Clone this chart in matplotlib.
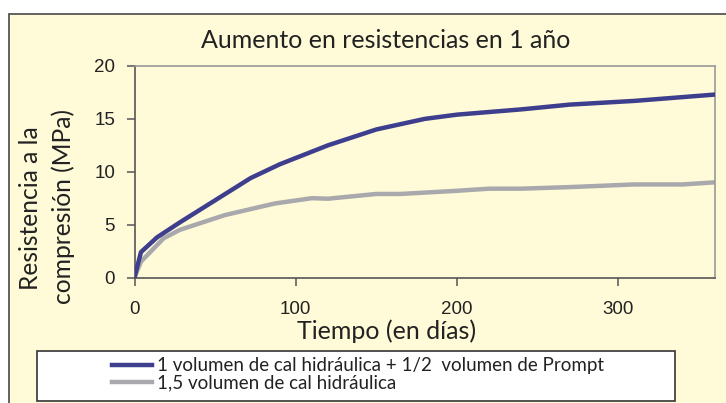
import matplotlib
matplotlib.use("Agg")
import matplotlib.pyplot as plt
from matplotlib.patches import Rectangle
from matplotlib.lines import Line2D

# Data
dias_a = [0, 4, 14, 28, 50, 72, 90, 120, 150, 180, 200, 240, 270, 310, 360]
res_a = [0, 2.4, 3.8, 5.2, 7.3, 9.4, 10.7, 12.5, 14.0, 15.0, 15.4, 15.9, 16.35, 16.7, 17.3]
dias_b = [0, 4, 18, 28, 56, 87, 110, 120, 150, 165, 200, 220, 240, 270, 310, 340, 360]
res_b = [0, 1.5, 3.7, 4.5, 5.9, 7.0, 7.5, 7.45, 7.9, 7.9, 8.2, 8.4, 8.4, 8.55, 8.8, 8.8, 9.0]
labels = ["1 volumen de cal hidráulica + 1/2  volumen de Prompt",
          "1,5 volumen de cal hidráulica"]
xticks = [0, 100, 200, 300]
yticks = [0, 5, 10, 15, 20]

W, H = 726, 403
fig = plt.figure(figsize=(W / 100, H / 100), dpi=100)
fig.patch.set_facecolor("white")
bg = "#FFFAD7"
label_font = ["Lato", "DejaVu Sans"]
tick_font = ["Liberation Sans", "DejaVu Sans"]

def fx(px):
    return px / W

def fy(py):
    return 1 - py / H

# outer frame
frame = Rectangle((fx(8.5), fy(420)), fx(760), (420 - 14) / H,
                  transform=fig.transFigure, facecolor=bg,
                  edgecolor="#555555", linewidth=1.3, zorder=-5)
fig.patches.append(frame)

ax = fig.add_axes([fx(134.5), fy(277.5), fx(715 - 134.5), (277.5 - 66) / H])
ax.set_zorder(2)
ax.set_facecolor(bg)
ax.plot(dias_a, res_a, color="#3E3E8E", lw=3.2, solid_capstyle="round", zorder=3)
ax.plot(dias_b, res_b, color="#A9A9AD", lw=3.2, solid_capstyle="round", zorder=2)
ax.set_xlim(0, 360)
ax.set_ylim(0, 20)
ax.set_xticks(xticks)
ax.set_yticks(yticks)
for s in ["top", "right"]:
    ax.spines[s].set_color("#9A9A9A")
    ax.spines[s].set_linewidth(1.2)
for s in ["left", "bottom"]:
    ax.spines[s].set_color("#555555")
    ax.spines[s].set_linewidth(1.2)
ax.tick_params(axis="both", direction="out", length=6, width=1.1, color="#555555",
               labelsize=13.5, labelcolor="#222222")
ax.tick_params(axis="y", pad=8)
ax.tick_params(axis="x", pad=11)
for t in ax.get_xticklabels() + ax.get_yticklabels():
    t.set_fontfamily(tick_font)

fig.text(fx(386), fy(40), "Aumento en resistencias en 1 año", ha="center", va="center",
         fontsize=18, family=label_font, color="#222222", zorder=3)
fig.text(fx(387), fy(331), "Tiempo (en días)", ha="center", va="center",
         fontsize=18, family=label_font, color="#222222", zorder=3)
fig.text(fx(31), fy(208), "Resistencia a la", ha="center", va="center", rotation=90,
         fontsize=17.7, family=label_font, color="#222222", zorder=3)
fig.text(fx(63), fy(207), "compresión (MPa)", ha="center", va="center", rotation=90,
         fontsize=17.7, family=label_font, color="#222222", zorder=3)

# legend box
box = Rectangle((fx(37), fy(401)), fx(675 - 37), (401 - 351) / H,
                transform=fig.transFigure, facecolor="white",
                edgecolor="#333333", linewidth=1.2, zorder=1)
fig.patches.append(box)
handles = [Line2D([], [], color="#3E3E8E", lw=3.2),
           Line2D([], [], color="#A9A9AD", lw=3.2)]
leg = fig.legend(handles, labels, loc="upper left", bbox_to_anchor=(fx(112), fy(357.5)),
                 frameon=False, handlelength=2.15, handletextpad=0.27,
                 labelspacing=0.0, borderaxespad=0, borderpad=0,
                 prop={"family": label_font, "size": 13.5})
leg.set_zorder(5)
for t in leg.get_texts():
    t.set_color("#222222")

fig.savefig("out.png", dpi=100)
